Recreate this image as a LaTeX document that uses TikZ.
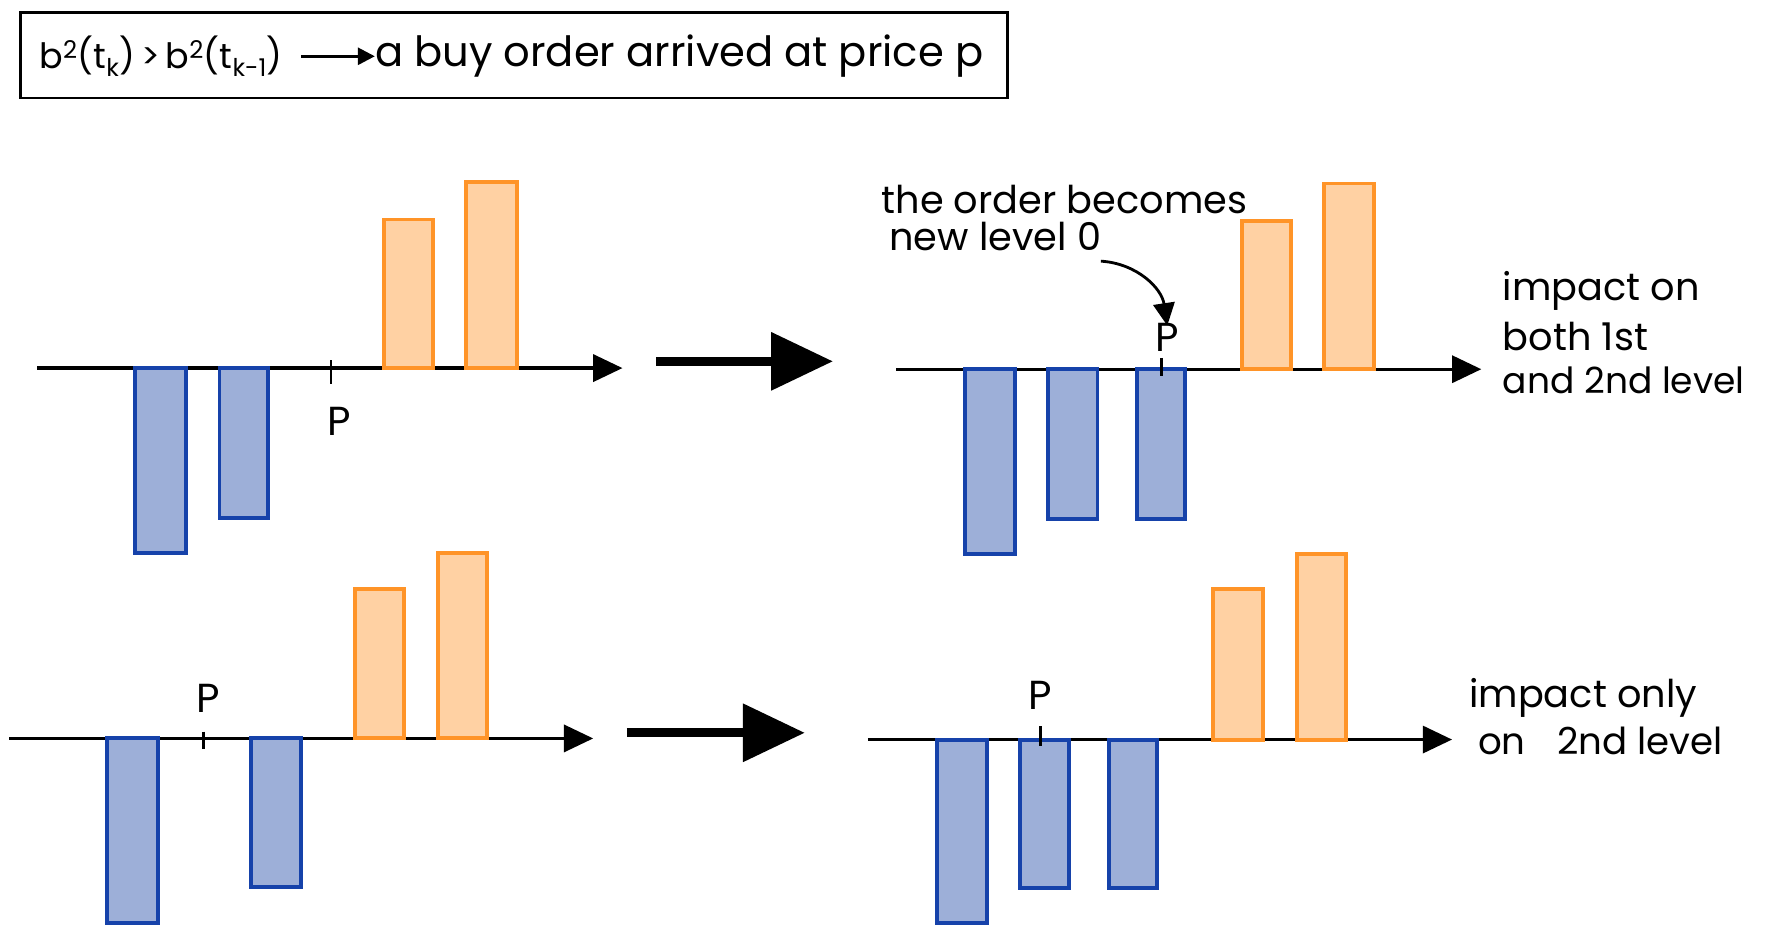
\documentclass[tikz,border=0pt]{standalone}
\usepackage{fontspec}
\setmainfont{Poppins}
\usetikzlibrary{arrows.meta}
\definecolor{bfill}{RGB}{157,175,216}
\definecolor{bline}{RGB}{22,66,170}
\definecolor{ofill}{RGB}{255,209,163}
\definecolor{oline}{RGB}{255,148,40}
\begin{document}
\begin{tikzpicture}[x=1pt,y=-1pt,
 bidbar/.style={draw=bline,fill=bfill,line width=3.5pt},
 askbar/.style={draw=oline,fill=ofill,line width=3.5pt},
 axisline/.style={line width=3pt,-{Triangle[length=26pt,width=24pt]}},
 bigarrow/.style={line width=8pt,-{Triangle[length=55pt,width=50pt]}},
 tickmark/.style={line width=2.5pt},
 hand/.style={font=\fontsize{34}{40}\selectfont, inner sep=0pt},
 plabel/.style={font=\fontsize{36}{42}\selectfont, inner sep=0pt},
]
\useasboundingbox (0,0) rectangle (1568,827);

% title
\node[draw,line width=2.5pt,minimum width=877pt,minimum height=76pt,inner sep=0pt] (titlebox) at (456.5,49) {};
\node[font=\fontsize{31}{36}\selectfont,inner sep=0pt,anchor=west] (cond) at (35,50) {b\textsuperscript{2}(t\textsubscript{k})\,>\,b\textsuperscript{2}(t\textsubscript{k-1})};
\node[font=\fontsize{37}{42}\selectfont,inner sep=0pt,anchor=west] (msg) at (333,50) {a buy order arrived at price p};
\draw[line width=2.5pt,-{Triangle[length=15pt,width=15pt]}] (cond.east) ++(16,0) coordinate (ts) (ts) -- (msg.west);

% ---------- top-left panel
\coordinate (a1s) at (33,327); \coordinate (a1e) at (553,327);
\draw[axisline] (a1s) -- (a1e);
\draw[bidbar] (120,327) rectangle (165,491);
\draw[bidbar] (195,327) rectangle (238,460);
\draw[askbar] (341,327) rectangle (385,195);
\draw[askbar] (414,327) rectangle (459,162);
\draw[tickmark] (294,320) -- (294,341);
\node[plabel] (p1) at (301,374) {P};

% big arrow 1
\coordinate (g1s) at (583,321); \coordinate (g1e) at (740,321);
\draw[bigarrow] (g1s) -- (g1e);

% ---------- top-right panel
\coordinate (a2s) at (796,328); \coordinate (a2e) at (1316,328);
\draw[axisline] (a2s) -- (a2e);
\draw[bidbar] (857,328) rectangle (902,492);
\draw[bidbar] (931,328) rectangle (975,461);
\draw[bidbar] (1010,328) rectangle (1053,461);
\draw[askbar] (1103,328) rectangle (1147,196);
\draw[askbar] (1176,328) rectangle (1221,163);
\draw[tickmark] (1032,318) -- (1032,334);
\node[plabel] (p2) at (1037,300) {P};
\node[hand,anchor=west,align=left] (note1) at (783,177) {the order becomes};
\node[hand,anchor=west,align=left] (note2) at (790,210) {new level 0};
\coordinate (cs) at (978,232);
\draw[line width=2.5pt,-{Triangle[length=20pt,width=19pt]}] (cs) .. controls (1010,234) and (1032,256) .. ([yshift=-2pt]p2.north);
\node[hand,anchor=west] (imp1) at (1335,258) {impact on};
\node[hand,anchor=west] (imp2) at (1335,299) {both 1st};
\node[font=\fontsize{32}{38}\selectfont,inner sep=0pt,anchor=west] (imp3) at (1335,338) {and 2nd level};

% ---------- bottom-left panel
\coordinate (a3s) at (8,656); \coordinate (a3e) at (527,656);
\draw[axisline] (a3s) -- (a3e);
\draw[bidbar] (95,656) rectangle (140,820);
\draw[bidbar] (223,656) rectangle (267,788);
\draw[askbar] (315,656) rectangle (359,523);
\draw[askbar] (389,656) rectangle (433,491);
\draw[tickmark] (181,650) -- (181,665);
\node[plabel] (p3) at (185,620) {P};

% big arrow 2
\coordinate (g2s) at (557,651); \coordinate (g2e) at (715,651);
\draw[bigarrow] (g2s) -- (g2e);

% ---------- bottom-right panel
\coordinate (a4s) at (771,657); \coordinate (a4e) at (1290,657);
\draw[axisline] (a4s) -- (a4e);
\draw[bidbar] (832,657) rectangle (877,820);
\draw[bidbar] (906,657) rectangle (950,789);
\draw[bidbar] (985,657) rectangle (1028,789);
\draw[askbar] (1078,657) rectangle (1122,523);
\draw[askbar] (1152,657) rectangle (1196,492);
\draw[tickmark] (924,645) -- (924,663);
\node[plabel] (p4) at (924,618) {P};
\node[hand,anchor=west] (imp4) at (1305,620) {impact only};
\node[font=\fontsize{33}{38}\selectfont,inner sep=0pt,anchor=west] (imp5) at (1313,658) {on\hspace{28pt}2nd level};
\end{tikzpicture}
\end{document}
